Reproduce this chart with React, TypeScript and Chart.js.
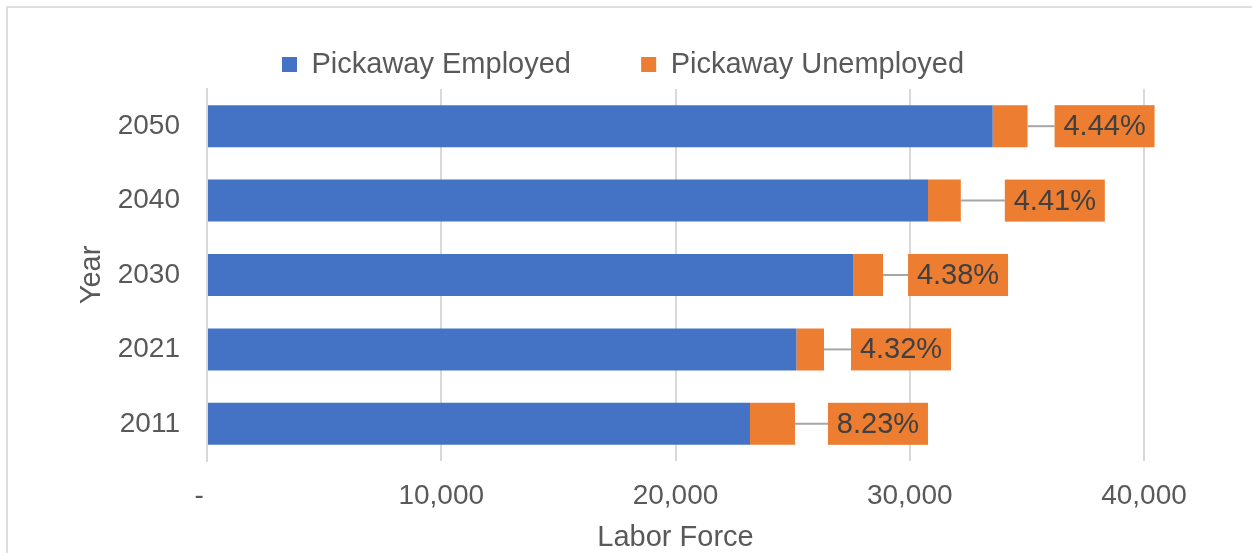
import React, { useEffect, useRef } from "react";
import { Chart, registerables } from "chart.js";

Chart.register(...registerables);

const years = ["2050", "2040", "2030", "2021", "2011"];
const employed = [33540, 30780, 27580, 25160, 23180];
const unemployed = [1490, 1400, 1280, 1180, 1920];
const rateLabels = ["4.44%", "4.41%", "4.38%", "4.32%", "8.23%"];
const seriesNames = ["Pickaway Employed", "Pickaway Unemployed"];
const xTickValues = [0, 10000, 20000, 30000, 40000];

const FONT = "'Liberation Sans', Arial, sans-serif";
const BLUE = "#4472C4";
const ORANGE = "#ED7D31";
const TEXT = "#595959";
const GRID = "#d9d9d9";

const boxLabelPlugin = {
  id: "boxLabels",
  afterDatasetsDraw(chart: any, _args: any, opts: any) {
    const meta = chart.getDatasetMeta(1);
    const ctx = chart.ctx;
    ctx.save();
    meta.data.forEach((bar: any, i: number) => {
      const { x, y, height } = bar.getProps(["x", "y", "height"], true);
      const left = x + opts.gaps[i];
      ctx.strokeStyle = "#a6a6a6";
      ctx.lineWidth = 2;
      ctx.beginPath();
      ctx.moveTo(x, y);
      ctx.lineTo(left, y);
      ctx.stroke();
      ctx.fillStyle = ORANGE;
      ctx.fillRect(left, y - height / 2, opts.width, height);
      ctx.fillStyle = "#404040";
      ctx.font = `29px ${FONT}`;
      ctx.textAlign = "center";
      ctx.textBaseline = "middle";
      ctx.fillText(opts.labels[i], left + opts.width / 2, y + 1);
    });
    ctx.restore();
  },
};

// centre the legend row on the whole canvas rather than on the padded area
const legendSpanPlugin = {
  id: "legendSpan",
  beforeDraw(chart: any) {
    const lg = chart.legend;
    if (lg) {
      lg.left = -6;
      lg.right = chart.width;
    }
  },
};

export default function App() {
  const ref = useRef<HTMLCanvasElement | null>(null);

  useEffect(() => {
    if (!ref.current) return;
    const chart = new Chart(ref.current, {
      type: "bar",
      data: {
        labels: years,
        datasets: [
          {
            label: seriesNames[0],
            data: employed,
            backgroundColor: BLUE,
            borderWidth: 0,
            barPercentage: 0.565,
            categoryPercentage: 1,
          },
          {
            label: seriesNames[1],
            data: unemployed,
            backgroundColor: ORANGE,
            borderWidth: 0,
            barPercentage: 0.565,
            categoryPercentage: 1,
          },
        ],
      },
      options: {
        indexAxis: "y",
        animation: false,
        responsive: false,
        maintainAspectRatio: false,
        layout: { padding: { top: 4, left: 0, right: 108, bottom: 0 } },
        plugins: {
          legend: {
            position: "top",
            align: "center",
            labels: {
              font: { family: FONT, size: 29 },
              color: TEXT,
              boxWidth: 15,
              boxHeight: 15,
              padding: 46,
              generateLabels: (c: any) => {
                const items = (Chart.defaults.plugins.legend.labels as any).generateLabels(c);
                items.forEach((it: any, i: number) => {
                  it.lineWidth = 0;
                  if (i === 0) it.text = it.text + "   ";
                });
                return items;
              },
            },
          },
          tooltip: { enabled: false },
          boxLabels: {
            labels: rateLabels,
            gaps: [27, 44, 25, 27, 33],
            width: 100,
          },
        } as any,
        scales: {
          x: {
            stacked: true,
            min: 0,
            max: 40000,
            afterBuildTicks: (s: any) => {
              s.ticks = xTickValues.map((v) => ({ value: v }));
            },
            ticks: {
              font: { family: FONT, size: 28 },
              color: TEXT,
              padding: 18,
              maxRotation: 0,
              callback: (v: any) => (Number(v) === 0 ? "-  " : Number(v).toLocaleString("en-US")),
            },
            grid: { color: GRID, lineWidth: 2, drawTicks: false },
            border: { display: false },
            title: {
              display: true,
              text: "Labor Force",
              font: { family: FONT, size: 29 },
              color: TEXT,
              padding: { top: 0, bottom: -2 },
            },
            afterFit: (s: any) => {
              s.height = 92;
            },
          },
          y: {
            stacked: true,
            ticks: {
              font: { family: FONT, size: 28 },
              color: TEXT,
              padding: 27,
            },
            grid: { display: false, drawTicks: false },
            border: { display: true, color: GRID, width: 2 },
            title: {
              display: true,
              text: "Year",
              font: { family: FONT, size: 29 },
              color: TEXT,
              padding: { top: 75, bottom: 75 },
            },
            afterFit: (s: any) => {
              s.width = 207;
            },
          },
        },
      },
      plugins: [boxLabelPlugin, legendSpanPlugin],
    } as any);
    return () => chart.destroy();
  }, []);

  return (
    <div style={{ position: "fixed", left: 0, top: 0, width: 1252, height: 553, background: "#fff" }}>
      <div
        style={{
          position: "absolute",
          left: 6,
          top: 6,
          width: 1300,
          height: 600,
          borderLeft: "2px solid #dedede",
          borderTop: "2px solid #dedede",
        }}
      />
      <canvas
        ref={ref}
        width={1252}
        height={553}
        style={{ position: "absolute", left: 0, top: 0, display: "block" }}
      />
    </div>
  );
}
